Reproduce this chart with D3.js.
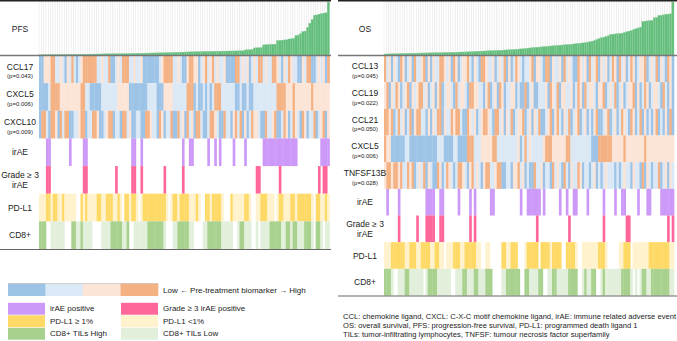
<!DOCTYPE html>
<html>
<head>
<meta charset="utf-8">
<script src="https://cdn.jsdelivr.net/npm/d3@7"></script>
<style>
  body { margin: 0; background: #fff; }
  svg { display: block; font-family: "Liberation Sans", Arial, sans-serif; }
</style>
</head>
<body>
<svg id="chart" width="677" height="341"></svg>
<script>
// survival per patient (sorted), one value per column
var pfsMonths = [
  0.8,0.8,0.9,0.9,0.9,1.0,1.0,1.0,1.0,1.1,
  1.1,1.1,1.1,1.2,1.2,1.2,1.2,1.3,1.3,1.3,
  1.3,1.4,1.4,1.4,1.5,1.5,1.5,1.6,1.6,1.7,
  1.7,1.7,1.8,1.8,1.8,1.9,1.9,2.0,2.0,2.0,
  2.1,2.1,2.2,2.2,2.3,2.3,2.4,2.4,2.5,2.5,
  2.6,2.6,2.7,2.7,2.8,2.9,3.0,3.0,3.1,3.2,
  3.3,3.3,3.4,3.5,3.5,3.6,3.7,3.8,3.8,3.9,
  4.0,4.0,4.1,4.1,4.2,4.2,4.3,4.3,4.3,4.4,
  4.4,4.4,4.5,4.5,4.5,4.6,4.6,4.7,4.7,5.5,
  5.7,5.8,5.9,7.5,7.7,7.8,7.9,10.5,10.8,11,
  11,11.2,11.3,14.8,15,15.2,15.4,15.6,16.4,16.7,
  17,19.8,20.3,21.7,23.8,24.2,28,32,35.7,40,
  40.2,41,41.5,42,42.4,53
];
var osMonths = [
  1.5,1.6,1.6,1.7,1.8,1.8,1.9,2.0,2.0,2.1,
  2.2,2.2,2.3,2.3,2.4,2.4,2.5,2.5,2.6,2.6,
  2.7,2.7,2.8,2.8,2.9,3.0,3.0,3.1,3.1,3.2,
  3.2,3.3,3.4,3.5,3.5,3.6,3.7,3.8,3.9,4.0,
  4.2,4.3,4.4,4.5,4.6,4.7,4.8,4.9,5.0,5.1,
  5.2,5.3,5.5,5.6,5.7,5.9,6.0,6.2,6.4,6.6,
  6.8,7.0,7.3,7.6,7.8,8.0,8.2,8.4,8.6,8.8,
  9.0,9.3,9.5,9.7,9.9,10.1,10.3,10.5,10.7,10.9,
  11.1,11.3,11.5,11.8,12.0,12.3,12.6,12.9,13.2,13.8,
  14.3,15,16,17,17.7,18.3,19,19.8,21,21.3,
  21.5,21.8,22,22.3,23,23.6,24.3,25,25.8,26.7,
  27.5,28.3,33.8,34.3,34.5,34.8,35,37.7,38,40,
  40,40.5,41,41.3,41.5,53.3
];

// biomarker quartiles: 0 lowest .. 3 highest
var pfsMarkers = ["CCL17", "CXCL5", "CXCL10"];
var pfsPvalues = ["(p=0.043)", "(p=0.006)", "(p=0.009)"];
var pfsQuartiles = [
  "0022233112 1021310123 3333311211 3001213331 1211200000 0012333311 2100233220 1231231211 2000033121 2012133121 1332102132 1100213300 121203",
  "0000133332 2222222233 1100000111 1111222220 0000000111 1000222211 1111333010 0101013331 1111100100 1001111111 1113333222 3222222232 222222",
  "0331033203 1330011233 0113320012 3301103312 0011003321 1032011300 3120312033 1001332100 3110231302 0132210031 1230013201 3210320113 012302"
];
var osMarkers = ["CCL13", "CCL19", "CCL21", "CXCL5", "TNFSF13B"];
var osPvalues = ["(p=0.045)", "(p=0.022)", "(p=0.050)", "(p=0.006)", "(p=0.028)"];
var osQuartiles = [
  "3120210320 1203112302 0211332120 3201223102 1033211201 2130201321 0112302210 3302112031 2100321203 1230212013 2031201320 1223012130 210320",
  "2302132012 3021233120 1202301221 0312210332 2110230120 3201122010 0301200111 2032130221 1201320312 2102230121 3012012230 2013201221 031020",
  "3323013120 1302331102 0213302113 2331003212 0123321033 1202130122 3012021300 1230231021 3012301201 0230012301 2013210320 1302010230 102030",
  "3220000001 1000000000 0001110000 1100003331 1122222331 1111111120 1312111112 3332222223 3111111111 0003333332 2222322222 2223222222 222222",
  "2332332311 3230121302 1003201321 0133210231 2102331123 3001102231 2010031120 1103121031 0211320110 1201012111 0101211021 1030210113 012021"
];

// clinical rows: irAE / grade>=3 (1 = yes), PD-L1 and CD8 (0 missing, 1 low, 2 high)
var pfsIrae   = "0001100000 0001000001 1000000000 0000000000 1100100000 0000000000 0010011000 0001001010 0000100001 0000000111 1111111111 1100000000 001111";
var pfsGrade3 = "0001100000 0000000001 1000000000 0001000000 1100100000 0000100000 0010000000 0000000000 0000000000 0000110000 0000100000 0000000000 010110";
var pfsPdl1   = "1112212211 2111110021 2111122112 2211210221 2210122222 2222210122 1222211121 0022122221 0002111112 2100112221 1101221112 2122222210 221121";
var pfsCd8    = "2220011111 1000221121 1110000111 1222221120 0111111222 2222100011 2222211000 0112222221 1111001221 1100101111 2222211221 2211122210 221011";
var osIrae    = "0100001000 0000000011 1100110000 0010000101 0000001100 0000000001 0011111101 0000001001 0011000010 0000010000 1001100000 1000110000 111111";
var osGrade3  = "0000001000 0000100011 1100110000 0000000101 0000000000 0000000000 0000001000 0000000000 1000000000 0000010000 0000011000 0000000000 000101";
var osPdl1    = "1112222221 1222112222 1122110111 2221122222 1100110000 0221122200 0122222022 2212222002 2221001111 1112221000 0011222011 1111122222 222211";
var osCd8     = "2221001112 2111111012 2221111110 0111221112 2111222000 0112222220 0221111220 0112211111 2222001211 2200121111 1112222101 0122112222 222211";

var quartileColors = ["#9dc3e6", "#dbe8f5", "#fce4d6", "#f4b183"];
var iraeColors = ["none", "#cc99f8"];
var grade3Colors = ["none", "#ff6699"];
var pdl1Colors = ["none", "#fff2cc", "#ffd966"];
var cd8Colors = ["none", "#e2efda", "#a9d18e"];

function parseRow(s) {
  return s.replace(/\s/g, "").split("").map(Number);
}

function clinicalRows(irae, grade3, pdl1, cd8) {
  return [
    { label: ["irAE"], values: irae, colors: iraeColors },
    { label: ["Grade \u2265 3", "irAE"], values: grade3, colors: grade3Colors },
    { label: ["PD-L1"], values: pdl1, colors: pdl1Colors },
    { label: ["CD8+"], values: cd8, colors: cd8Colors }
  ];
}

var svg = d3.select("#chart");

function drawPanel(p) {
  var n = p.survival.length;
  var x = d3.scaleBand().domain(d3.range(n)).range([p.left, p.right]);
  var h = d3.scaleLinear().domain([0, d3.max(p.survival)]).range([p.base, p.top]);
  var y = d3.scaleBand().domain(d3.range(p.rows.length)).range([p.base, p.bottom]);
  var g = svg.append("g");

  // survival bars with column grid
  g.selectAll(".col").data(p.survival).enter().append("rect")
    .attr("x", (d, i) => x(i))
    .attr("y", p.top)
    .attr("width", x.bandwidth())
    .attr("height", p.base - p.top)
    .attr("fill", "#fff")
    .attr("stroke", "#e6e6e6")
    .attr("stroke-width", 0.5);

  g.selectAll(".bar").data(p.survival).enter().append("rect")
    .attr("x", (d, i) => x(i))
    .attr("y", d => h(d))
    .attr("width", x.bandwidth())
    .attr("height", d => p.base - h(d))
    .attr("fill", "#63be7b")
    .attr("stroke", "#8ccf9f")
    .attr("stroke-width", 0.3);

  g.append("text")
    .attr("x", p.labelX).attr("y", (p.top + p.base) / 2)
    .attr("text-anchor", "middle").attr("dominant-baseline", "central")
    .style("font-size", "8.5px").style("fill", "#222")
    .text(p.title);

  // heatmap rows
  p.rows.forEach((r, ri) => {
    var vals = parseRow(r.values);
    g.append("g").selectAll("rect").data(vals).enter().append("rect")
      .attr("x", (d, i) => x(i))
      .attr("y", y(ri))
      .attr("width", x.bandwidth() + 0.35)
      .attr("height", y.bandwidth())
      .attr("fill", d => r.colors[d]);

    var cy = y(ri) + y.bandwidth() / 2;
    var lab = g.append("g").style("fill", "#222");
    if (r.sub) {
      lab.append("text").attr("x", p.labelX).attr("y", cy - 2.5)
        .attr("text-anchor", "middle").attr("dominant-baseline", "central")
        .style("font-size", "8.5px").text(r.label[0]);
      lab.append("text").attr("x", p.labelX).attr("y", cy + 7)
        .attr("text-anchor", "middle").attr("dominant-baseline", "central")
        .style("font-size", "6px").text(r.sub);
    } else if (r.label.length === 2) {
      lab.selectAll("text").data(r.label).enter().append("text")
        .attr("x", p.labelX).attr("y", (d, i) => cy - 4.5 + i * 9.5)
        .attr("text-anchor", "middle").attr("dominant-baseline", "central")
        .style("font-size", "8.5px").text(d => d);
    } else {
      lab.append("text").attr("x", p.labelX).attr("y", cy)
        .attr("text-anchor", "middle").attr("dominant-baseline", "central")
        .style("font-size", "8.5px").text(r.label[0]);
    }
  });

  // frame lines
  g.append("line").attr("x1", p.lineL).attr("x2", p.lineR).attr("y1", 0.8).attr("y2", 0.8)
    .attr("stroke", "#222").attr("stroke-width", 1.6);
  g.append("line").attr("x1", p.lineL).attr("x2", p.lineR).attr("y1", p.base).attr("y2", p.base)
    .attr("stroke", "#777").attr("stroke-width", 1.6);
  g.append("line").attr("x1", p.lineL).attr("x2", p.lineR).attr("y1", p.bottom + 0.5).attr("y2", p.bottom + 0.5)
    .attr("stroke", "#666").attr("stroke-width", 1.2);
}

var pfsRows = pfsMarkers.map((m, i) => ({ label: [m], sub: pfsPvalues[i], values: pfsQuartiles[i], colors: quartileColors }))
  .concat(clinicalRows(pfsIrae, pfsGrade3, pfsPdl1, pfsCd8));
var osRows = osMarkers.map((m, i) => ({ label: [m], sub: osPvalues[i], values: osQuartiles[i], colors: quartileColors }))
  .concat(clinicalRows(osIrae, osGrade3, osPdl1, osCd8));

drawPanel({ title: "PFS", survival: pfsMonths, rows: pfsRows, left: 39, right: 329.5,
  top: 2, base: 55.5, bottom: 249, labelX: 20, lineL: 0, lineR: 331 });
drawPanel({ title: "OS", survival: osMonths, rows: osRows, left: 384, right: 674,
  top: 2, base: 55.5, bottom: 295.5, labelX: 365, lineL: 338, lineR: 677 });

// legend
var legend = svg.append("g").style("font-size", "8px").style("fill", "#222");
var gradX = d3.scaleBand().domain(d3.range(quartileColors.length)).range([8, 158]);
legend.selectAll(".q").data(quartileColors).enter().append("rect")
  .attr("x", (d, i) => gradX(i)).attr("y", 283.5)
  .attr("width", gradX.bandwidth() + 0.3).attr("height", 12.5)
  .attr("fill", d => d);
legend.append("line").attr("x1", 8).attr("x2", 158).attr("y1", 283.5).attr("y2", 283.5)
  .attr("stroke", "#bbb").attr("stroke-width", 0.6);
legend.append("text").attr("x", 163).attr("y", 290).attr("dominant-baseline", "central")
  .text("Low \u2190 Pre-treatment biomarker \u2192 High");

var legendItems = [
  { text: "irAE positive", color: iraeColors[1], col: 0, row: 0 },
  { text: "Grade \u2265 3 irAE positive", color: grade3Colors[1], col: 1, row: 0 },
  { text: "PD-L1 \u2265 1%", color: pdl1Colors[2], col: 0, row: 1 },
  { text: "PD-L1 <1%", color: pdl1Colors[1], col: 1, row: 1 },
  { text: "CD8+ TILs High", color: cd8Colors[2], col: 0, row: 2 },
  { text: "CD8+ TILs Low", color: cd8Colors[1], col: 1, row: 2 }
];
var itemY = d3.scaleBand().domain([0, 1, 2]).range([302.5, 340]);
var itemX = d3.scaleOrdinal().domain([0, 1]).range([8, 121]);
var items = legend.selectAll(".item").data(legendItems).enter().append("g");
items.append("rect")
  .attr("x", d => itemX(d.col)).attr("y", d => itemY(d.row) + 0.3)
  .attr("width", 37).attr("height", itemY.bandwidth() - 0.6)
  .attr("fill", d => d.color);
items.append("text")
  .attr("x", d => itemX(d.col) + 42).attr("y", d => itemY(d.row) + itemY.bandwidth() / 2)
  .attr("dominant-baseline", "central")
  .text(d => d.text);

// footnote
var footnote = [
  "CCL: chemokine ligand, CXCL: C-X-C motif chemokine ligand, irAE: immune related adverse event",
  "OS: overall survival, PFS: progression-free survival, PD-L1: programmed death ligand 1",
  "TILs: tumor-infiltrating lymphocytes, TNFSF: tumour necrosis factor superfamily"
];
svg.append("g").selectAll("text").data(footnote).enter().append("text")
  .attr("x", 343).attr("y", (d, i) => 316 + i * 9)
  .attr("dominant-baseline", "central")
  .style("font-size", "7.6px").style("fill", "#222")
  .text(d => d);
</script>
</body>
</html>
